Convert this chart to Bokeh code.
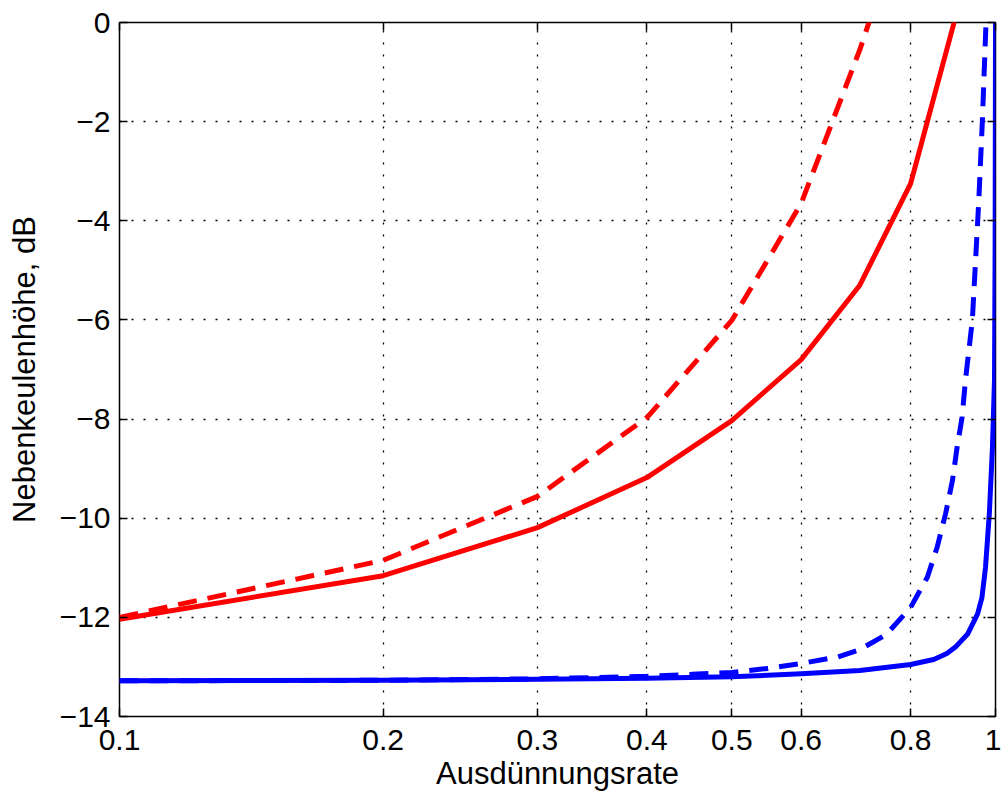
from bokeh.plotting import figure
from bokeh.models import FixedTicker, LinearAxis, LogAxis
from bokeh.embed import file_html
from bokeh.resources import INLINE

# Thinning rate (x) and sidelobe level in dB (y) for four array configurations
red_solid_x = [0.1, 0.2, 0.3, 0.4, 0.5, 0.6, 0.7, 0.8, 0.9]
red_solid_y = [-12.04, -11.16, -10.19, -9.18, -8.03, -6.8, -5.3, -3.25, 0.1]

red_dashed_x = [0.1, 0.2, 0.3, 0.4, 0.5, 0.6, 0.7, 0.8]
red_dashed_y = [-12.0, -10.85, -9.56, -7.97, -6.01, -3.65, -0.55, 2.5]

blue_solid_x = [0.1, 0.2, 0.3, 0.4, 0.5, 0.6, 0.7, 0.8, 0.85, 0.88, 0.9, 0.93,
                0.954, 0.965, 0.974, 0.984, 0.992, 0.9974, 0.999, 1.0]
blue_solid_y = [-13.28, -13.27, -13.25, -13.23, -13.2, -13.14, -13.07, -12.95,
                -12.85, -12.73, -12.6, -12.33, -11.93, -11.6, -11.0, -9.9,
                -8.57, -7.2, -4.5, 0.0]

blue_dashed_x = [0.1, 0.2, 0.3, 0.4, 0.45, 0.5, 0.55, 0.6, 0.66, 0.7, 0.75,
                 0.8, 0.836, 0.858, 0.877, 0.893, 0.904, 0.916, 0.924, 0.941,
                 0.957, 0.966, 0.974, 0.98]
blue_dashed_y = [-13.28, -13.27, -13.24, -13.19, -13.15, -13.11, -13.03,
                 -12.93, -12.8, -12.65, -12.35, -11.8, -11.19, -10.58, -9.91,
                 -9.24, -8.57, -7.96, -7.22, -6.0, -3.6, -2.0, -0.3, 1.0]

x_ticks = [0.1, 0.2, 0.3, 0.4, 0.5, 0.6, 0.8, 1.0]
x_tick_labels = ["0.1", "0.2", "0.3", "0.4", "0.5", "0.6", "0.8", "1"]
y_ticks = [0, -2, -4, -6, -8, -10, -12, -14]
y_tick_labels = ["0", "\u22122", "\u22124", "\u22126", "\u22128", "\u221210",
                 "\u221212", "\u221214"]

FONT = "Liberation Sans"
TICK_FS = "30px"
LABEL_FS = "31px"

p = figure(width=1001, height=796, x_axis_type="log",
           x_range=(0.1, 1.0), y_range=(-14, 0),
           output_backend="svg", toolbar_location=None,
           min_border_left=119, min_border_right=6,
           min_border_top=22, min_border_bottom=80)
p.background_fill_color = "white"
p.border_fill_color = "white"
p.outline_line_color = "black"
p.outline_line_width = 1.5

xt = FixedTicker(ticks=x_ticks, minor_ticks=[])
yt = FixedTicker(ticks=y_ticks, minor_ticks=[])

for ax in (p.xaxis[0], p.yaxis[0]):
    ax.major_tick_in = 8
    ax.major_tick_out = 0
    ax.minor_tick_line_color = None
    ax.axis_line_color = None
    ax.major_tick_line_color = "black"
    ax.major_tick_line_width = 1.5
    ax.major_label_text_font = FONT
    ax.major_label_text_font_size = TICK_FS
    ax.major_label_text_color = "black"
    ax.axis_label_text_font = FONT
    ax.axis_label_text_font_size = LABEL_FS
    ax.axis_label_text_font_style = "normal"
    ax.axis_label_text_color = "black"

p.xaxis[0].ticker = xt
p.xaxis[0].major_label_overrides = dict(zip(x_ticks, x_tick_labels))
p.xaxis[0].major_label_standoff = 13
p.xaxis[0].axis_label = "Ausdünnungsrate"
p.xaxis[0].axis_label_standoff = 3

p.yaxis[0].ticker = yt
p.yaxis[0].major_label_overrides = dict(zip(y_ticks, y_tick_labels))
p.yaxis[0].major_label_standoff = 9
p.yaxis[0].axis_label = "Nebenkeulenhöhe, dB"
p.yaxis[0].axis_label_standoff = 15

# Mirrored ticks on the top and right edges of the box
top = LogAxis(ticker=xt, major_tick_in=8, major_tick_out=0,
              major_tick_line_width=1.5, axis_line_color=None,
              minor_tick_line_color=None, major_label_text_font_size="0px",
              major_label_standoff=0)
right = LinearAxis(ticker=yt, major_tick_in=8, major_tick_out=0,
                   major_tick_line_width=1.5, axis_line_color=None,
                   minor_tick_line_color=None, major_label_text_font_size="0px",
                   major_label_standoff=0)
p.add_layout(top, "above")
p.add_layout(right, "right")

for g, t in ((p.xgrid[0], xt), (p.ygrid[0], yt)):
    g.ticker = t
    g.grid_line_color = "black"
    g.grid_line_width = 1.3
    g.grid_line_dash = "2 10"

p.line(red_solid_x, red_solid_y, line_color="#ff0000", line_width=5,
       line_join="round")
p.line(red_dashed_x, red_dashed_y, line_color="#ff0000", line_width=5,
       line_dash="19 11")
p.line(blue_solid_x, blue_solid_y, line_color="#0000ff", line_width=5,
       line_join="round")
p.line(blue_dashed_x, blue_dashed_y, line_color="#0000ff", line_width=5,
       line_dash="19 11")

open("out.html", "w").write(file_html(p, INLINE))
